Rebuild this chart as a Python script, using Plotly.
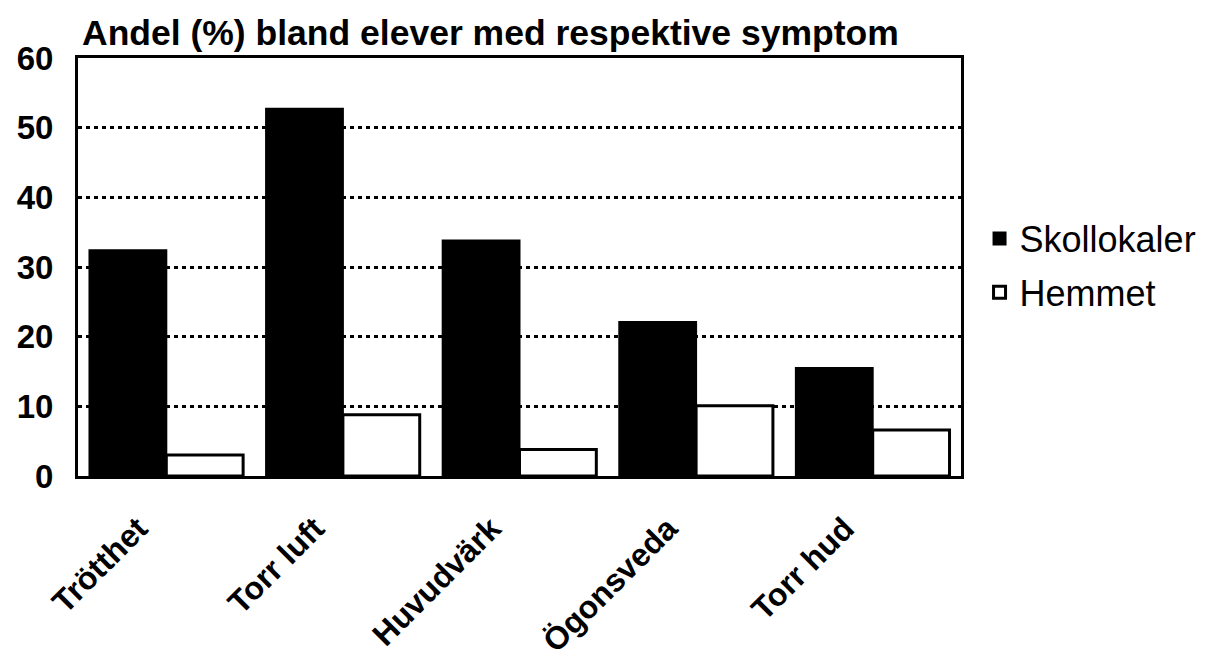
import plotly.graph_objects as go

categories = ["Trötthet", "Torr luft", "Huvudvärk", "Ögonsveda", "Torr hud"]
skollokaler = [32.4, 52.7, 33.8, 22.1, 15.5]
hemmet = [3.0, 8.8, 3.8, 10.1, 6.6]
y_ticks = [0, 10, 20, 30, 40, 50, 60]
title_text = "Andel (%) bland elever med respektive symptom"

FONT = "Liberation Sans, Arial, sans-serif"

# page body has an 8px margin; figure sized to fill the remaining window
W, H = 1197, 654

fig = go.Figure()
fig.add_trace(go.Bar(
    x=categories, y=skollokaler, name="Skollokaler", legendgroup="a",
    marker=dict(color="black", line=dict(color="black", width=2)),
))
fig.add_trace(go.Bar(
    x=categories, y=hemmet, name="Hemmet", legendgroup="b",
    marker=dict(color="white", line=dict(color="black", width=3)),
))

fig.update_layout(
    width=W, height=H,
    paper_bgcolor="white", plot_bgcolor="white",
    margin=dict(l=70, r=244, t=50, b=186, autoexpand=False),
    barmode="group", bargap=0.13, bargroupgap=0,
    font=dict(family=FONT, color="black"),
    title=dict(text=title_text, x=74 / W, xanchor="left",
               y=1 - 25 / H, yanchor="middle",
               font=dict(size=35.5, family=FONT, color="black", weight="bold")),
    legend=dict(x=1.021, xanchor="left", y=0.64, yanchor="top",
                font=dict(size=36, family=FONT, color="black"),
                traceorder="grouped", tracegroupgap=4,
                bgcolor="rgba(0,0,0,0)"),
    showlegend=True,
)
fig.update_xaxes(
    showline=True, linecolor="black", linewidth=3, mirror=True,
    tickangle=-45, tickfont=dict(size=32, family=FONT, color="black", weight="bold"),
    ticks="", showgrid=False,
    ticklabelstandoff=18, ticklabelshift=-28,
)
fig.update_yaxes(
    range=[0, 60], tickvals=y_ticks,
    showline=True, linecolor="black", linewidth=3, mirror=True,
    showgrid=True, gridcolor="black", gridwidth=3, griddash="4px,4px",
    tickfont=dict(size=33, family=FONT, color="black", weight="bold"),
    ticks="", ticklabelstandoff=15, zeroline=False,
)

fig.write_html("out.html")
